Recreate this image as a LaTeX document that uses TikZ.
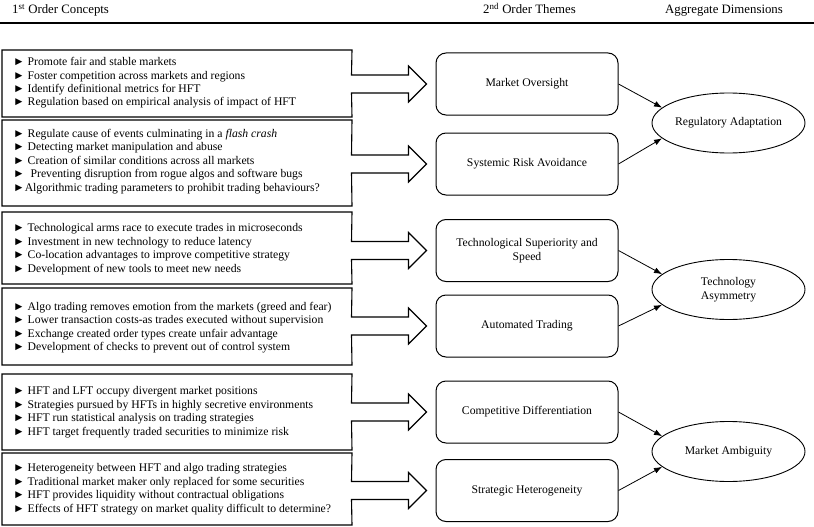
\documentclass[tikz,border=0pt]{standalone}
\usepackage{fontspec}
\setmainfont{Liberation Serif}
\usetikzlibrary{arrows.meta,shapes.geometric,calc}
\tikzset{
  outl/.style={draw, line width=1.1pt, line join=miter},
  theme/.style={draw, rounded corners=10pt, line width=1pt, minimum width=182pt, minimum height=62pt, align=center, inner sep=0pt, font=\fontsize{11.7}{13.5}\selectfont},
  dim/.style={draw, ellipse, line width=0.9pt, minimum width=153pt, minimum height=60pt, align=center, inner sep=0pt, font=\fontsize{11.7}{13.5}\selectfont},
  link/.style={-{Latex[length=8pt,width=6pt]}, line width=0.8pt},
  concept/.style={anchor=base west, inner sep=0pt, font=\fontsize{11.7}{13.5}\selectfont},
  head/.style={anchor=base, inner sep=0pt, font=\fontsize{12.8}{14}\selectfont}
}
\newcommand{\conceptoutline}[3]{%
  \draw[outl] (2,#1) -- (352,#1) -- ($(#3.west)+(-84,-9)$) -- ($(#3.west)+(-27,-9)$)
    -- ($(#3.west)+(-27,-18)$) -- ($(#3.west)+(-9,0)$) -- ($(#3.west)+(-27,18)$)
    -- ($(#3.west)+(-27,9)$) -- ($(#3.west)+(-84,9)$) -- (352,#2) -- (2,#2) -- cycle;}
\newcommand{\tb}[1]{\begin{tabular}[t]{@{}l@{}}#1\end{tabular}}
\begin{document}
\begin{tikzpicture}[x=1pt,y=-1pt]
\useasboundingbox (0,0) rectangle (814,527);
% headers
\node[head, anchor=base west] (h1) at (12,14) {1\textsuperscript{st} Order Concepts};
\node[head] (h2) at (529.5,14) {2\textsuperscript{nd} Order Themes};
\node[head] (h3) at (724,14) {Aggregate Dimensions};
\draw[line width=1.5pt] (0,23) -- (814,23);

% themes
\node[theme] (mo) at (527,84) {Market Oversight};
\node[theme] (sra) at (527,164) {Systemic Risk Avoidance};
\node[theme] (tss) at (527,250.5) {Technological Superiority and\\Speed};
\node[theme] (at) at (527,326) {Automated Trading};
\node[theme] (cd) at (527,412) {Competitive Differentiation};
\node[theme] (sh) at (527,490.5) {Strategic Heterogeneity};

% dimensions
\node[dim] (ra) at (728.5,123) {Regulatory Adaptation};
\node[dim] (ta) at (728.5,289.5) {Technology\\Asymmetry};
\node[dim] (ma) at (728.5,451.5) {Market Ambiguity};

% concept boxes
\conceptoutline{50}{117}{mo}
\conceptoutline{120}{206}{sra}
\conceptoutline{212}{284}{tss}
\conceptoutline{288}{365}{at}
\conceptoutline{374}{450}{cd}
\conceptoutline{453}{525}{sh}

\node[concept] (c1) at (13,65.5) {\tb{► Promote fair and stable markets\\
► Foster competition across markets and regions\\
► Identify definitional metrics for HFT\\
► Regulation based on empirical analysis of impact of HFT}};
\node[concept] (c2) at (13,137) {\tb{► Regulate cause of events culminating in a \textit{flash crash}\\
► Detecting market manipulation and abuse\\
► Creation of similar conditions across all markets\\
►\ \ Preventing disruption from rogue algos and software bugs\\
►Algorithmic trading parameters to prohibit trading behaviours?}};
\node[concept] (c3) at (13,231.5) {\tb{► Technological arms race to execute trades in microseconds\\
► Investment in new technology to reduce latency\\
► Co-location advantages to improve competitive strategy\\
► Development of new tools to meet new needs}};
\node[concept] (c4) at (13,310) {\tb{► Algo trading removes emotion from the markets (greed and fear)\\
► Lower transaction costs-as trades executed without supervision\\
► Exchange created order types create unfair advantage\\
► Development of checks to prevent out of control system}};
\node[concept] (c5) at (13,394.5) {\tb{► HFT and LFT occupy divergent market positions\\
► Strategies pursued by HFTs in highly secretive environments\\
► HFT run statistical analysis on trading strategies\\
► HFT target frequently traded securities to minimize risk}};
\node[concept] (c6) at (13,471.5) {\tb{► Heterogeneity between HFT and algo trading strategies\\
► Traditional market maker only replaced for some securities\\
► HFT provides liquidity without contractual obligations\\
► Effects of HFT strategy on market quality difficult to determine?}};

% links to dimensions
\draw[link] (mo.east) -- (ra.167);
\draw[link] (sra.east) -- (ra.193);
\draw[link] (tss.east) -- (ta.167);
\draw[link] (at.east) -- (ta.193);
\draw[link] (cd.east) -- (ma.167);
\draw[link] (sh.east) -- (ma.193);
\end{tikzpicture}
\end{document}
